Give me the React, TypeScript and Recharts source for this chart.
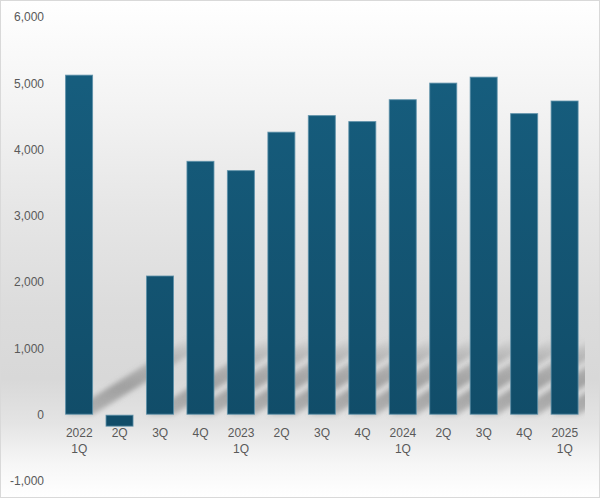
import React from 'react';
import { BarChart, Bar, XAxis, YAxis } from 'recharts';

const years = ['2022', '', '', '', '2023', '', '', '', '2024', '', '', '', '2025'];
const quarters = ['1Q', '2Q', '3Q', '4Q', '1Q', '2Q', '3Q', '4Q', '1Q', '2Q', '3Q', '4Q', '1Q'];
const values = [5130, -180, 2100, 3830, 3690, 4270, 4520, 4430, 4760, 5010, 5100, 4550, 4740];
const yTicks = [-1000, 0, 1000, 2000, 3000, 4000, 5000, 6000];

const data = quarters.map((q, i) => ({ year: years[i], quarter: q, value: values[i] }));

const W = 600;
const H = 498;
const X_H = 2;
const M = { top: 17, right: 15, bottom: 17 - X_H, left: 0 };
const Y_W = 59;
const Y_MIN = -1000;
const Y_MAX = 6000;
const plotTop = M.top;
const plotH = H - M.top - M.bottom - X_H;
const zeroY = plotTop + (Y_MAX / (Y_MAX - Y_MIN)) * plotH;

const textColor = '#595959';
const font = '"Liberation Sans", Arial, sans-serif';

// eslint-disable-next-line @typescript-eslint/no-explicit-any
function QuarterTick(props: any) {
    const { x, payload, index } = props;
    const d = data[index] || { year: '', quarter: payload.value };
    const y0 = zeroY + 22;
    return (
        <text x={x} y={y0} textAnchor="middle" fill={textColor} fontSize={12} fontFamily={font}>
            {d.year ? (
                <>
                    <tspan x={x} dy={0}>{d.year}</tspan>
                    <tspan x={x} dy={16}>{d.quarter}</tspan>
                </>
            ) : (
                <tspan x={x}>{d.quarter}</tspan>
            )}
        </text>
    );
}

// eslint-disable-next-line @typescript-eslint/no-explicit-any
function ShadowBar(props: any) {
    const { x, y, width, height, value } = props;
    const top = Math.min(y, y + height);
    const h = Math.abs(height);
    const base = value >= 0 ? top + h : top;
    const sh = Math.min(h, 78);
    const dx = sh * 1.6;
    return (
        <g>
            {value > 0 && (
                <g clipPath="url(#plotClip)">
                    <polygon
                        points={`${x},${base} ${x + width},${base} ${x + width + dx},${base - sh} ${x + dx},${base - sh}`}
                        fill="url(#shadowGrad)"
                        filter="url(#shadowBlur)"
                    />
                </g>
            )}
            <rect
                x={x + 0.5}
                y={top + 0.5}
                width={width - 1}
                height={Math.max(h - 1, 0)}
                fill="url(#barGrad)"
                stroke="#5a8ea8"
                strokeOpacity={0.8}
                strokeWidth={1}
            />
        </g>
    );
}

export default function App() {
    return (
        <div
            style={{
                position: 'absolute',
                left: 0,
                top: 0,
                width: W,
                height: H,
                background:
                    'linear-gradient(to bottom, #ffffff 0%, #f4f4f4 20%, #e6e6e6 42%, #dcdcdc 62%, #d8d8d8 76%, #e4e4e4 85%, #f6f6f6 93%, #ffffff 100%)',
                boxShadow: 'inset 0 0 0 1px #d9d9d9',
            }}
        >
            <BarChart width={W} height={H} data={data} margin={M} barCategoryGap="15%">
                <defs>
                    <linearGradient id="barGrad" gradientUnits="userSpaceOnUse" x1="0" y1={plotTop} x2="0" y2={zeroY}>
                        <stop offset="0%" stopColor="#176081" />
                        <stop offset="100%" stopColor="#114d69" />
                    </linearGradient>
                    <linearGradient id="shadowGrad" x1="0" y1="1" x2="0" y2="0">
                        <stop offset="0%" stopColor="#7a7a7a" stopOpacity={0.45} />
                        <stop offset="35%" stopColor="#7a7a7a" stopOpacity={0.6} />
                        <stop offset="75%" stopColor="#7a7a7a" stopOpacity={0.35} />
                        <stop offset="100%" stopColor="#7a7a7a" stopOpacity={0} />
                    </linearGradient>
                    <filter id="shadowBlur" x="-20%" y="-20%" width="140%" height="140%">
                        <feGaussianBlur stdDeviation="2.5" />
                    </filter>
                    <clipPath id="plotClip">
                        <rect x={Y_W} y={plotTop} width={W - Y_W - M.right} height={plotH} />
                    </clipPath>
                </defs>
                <XAxis
                    dataKey="quarter"
                    axisLine={false}
                    tickLine={false}
                    height={X_H}
                    interval={0}
                    tick={<QuarterTick />}
                />
                <YAxis
                    domain={[Y_MIN, Y_MAX]}
                    ticks={yTicks}
                    width={Y_W}
                    axisLine={false}
                    tickLine={false}
                    tickSize={0}
                    tickMargin={15}
                    tick={{ fill: textColor, fontSize: 12, fontFamily: font }}
                    tickFormatter={(v: number) => v.toLocaleString('en-US')}
                />
                <Bar dataKey="value" shape={<ShadowBar />} isAnimationActive={false} />
            </BarChart>
        </div>
    );
}
